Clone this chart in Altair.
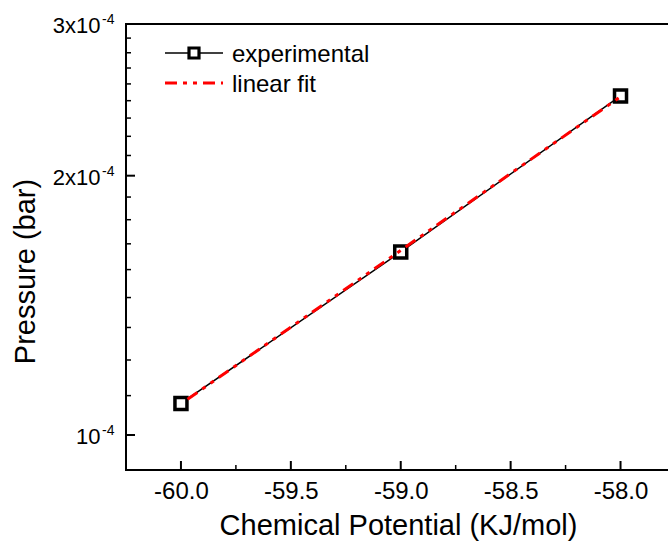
import altair as alt
import pandas as pd

FONT = "Liberation Sans"

# ---- data ----
mu = [-60.0, -59.0, -58.0]
pressure = [1.088e-4, 1.631e-4, 2.475e-4]
fit_mu = [-59.97, -58.0]
fit_p = [1.100e-4, 2.470e-4]

x_major = [-60.0, -59.5, -59.0, -58.5, -58.0]
x_minor = [-59.75, -59.25, -58.75, -58.25]
y_major = [1e-4, 2e-4, 3e-4]
y_minor = [1.111e-4, 1.222e-4, 1.333e-4, 1.444e-4, 1.556e-4, 1.667e-4, 1.778e-4, 1.889e-4,
           2.111e-4, 2.222e-4, 2.333e-4, 2.444e-4, 2.556e-4, 2.667e-4, 2.778e-4, 2.889e-4]
y_sup = ["-4", "-4", "-4"]
legend_labels = ["experimental", "linear fit"]

X_DOMAIN = [-60.25, -57.784]
Y_DOMAIN = [0.9107e-4, 3e-4]
W, H = 542, 446

xs = alt.Scale(domain=X_DOMAIN, nice=False, zero=False)
ys = alt.Scale(type="log", domain=Y_DOMAIN, nice=False)

df = pd.DataFrame({"mu": mu, "p": pressure})
df_fit = pd.DataFrame({"mu": fit_mu, "p": fit_p})
one = pd.DataFrame({"a": [0]})

xaxis = alt.Axis(
    values=x_major,
    labelExpr="datum.value < 0 ? '-' + format(-datum.value, '.1f') : format(datum.value, '.1f')",
    tickSize=0, domain=False, grid=False, labelOverlap=False,
    labelFont=FONT, labelFontSize=24, labelColor="black",
    labelBaseline="alphabetic", labelPadding=28,
    title="Chemical Potential (KJ/mol)", titleFont=FONT, titleFontSize=29,
    titleFontWeight="normal", titleColor="black",
    titleX=272, titleY=64, titleAlign="center", titleBaseline="alphabetic",
)
yaxis = alt.Axis(
    values=y_major,
    labelExpr="datum.value < 1.5e-4 ? '10' : format(round(datum.value * 1e4), 'd') + 'x10'",
    tickSize=0, domain=False, grid=False, labelOverlap=False,
    labelFont=FONT, labelFontSize=22, labelColor="black",
    labelPadding=26, labelOffset=1.5,
    title="Pressure (bar)", titleFont=FONT, titleFontSize=29,
    titleFontWeight="normal", titleColor="black", titleAngle=270,
    titleX=-92, titleY=247, titleAlign="center", titleBaseline="alphabetic",
)

X = lambda f: alt.X(f, scale=xs, axis=xaxis)
Y = lambda f: alt.Y(f, scale=ys, axis=yaxis)

line = alt.Chart(df).mark_line(color="black", strokeWidth=1.5).encode(x=X("mu:Q"), y=Y("p:Q"))
pts = alt.Chart(df).mark_point(shape="square", fill="white", stroke="black", strokeWidth=3.5,
                               size=144, opacity=1, fillOpacity=1).encode(x=X("mu:Q"), y=Y("p:Q"))
DASH = [12, 6, 4, 6, 4, 6]
fit = alt.Chart(df_fit).mark_line(color="red", strokeWidth=3, strokeDash=DASH).encode(
    x=X("mu:Q"), y=Y("p:Q"))

# frame
frame_left = alt.Chart(one).mark_rule(color="black", strokeWidth=2).encode(
    x=alt.value(0), y=alt.value(-1), y2=alt.value(H))
frame_bottom = alt.Chart(one).mark_rule(color="black", strokeWidth=2).encode(
    x=alt.value(-1), x2=alt.value(W), y=alt.value(H))
frame_top = alt.Chart(one).mark_rule(color="black", strokeWidth=2).encode(
    x=alt.value(-1), x2=alt.value(W), y=alt.value(0))

# inward ticks
yt_major = alt.Chart(pd.DataFrame({"p": y_major})).mark_rule(color="black", strokeWidth=2).encode(
    y=Y("p:Q"), x=alt.value(0), x2=alt.value(9))
yt_minor = alt.Chart(pd.DataFrame({"p": y_minor})).mark_rule(color="black", strokeWidth=1.5).encode(
    y=Y("p:Q"), x=alt.value(0), x2=alt.value(5))
xt_major = alt.Chart(pd.DataFrame({"mu": x_major})).mark_rule(color="black", strokeWidth=2).encode(
    x=X("mu:Q"), y=alt.value(H - 9), y2=alt.value(H))
xt_minor = alt.Chart(pd.DataFrame({"mu": x_minor})).mark_rule(color="black", strokeWidth=1.5).encode(
    x=X("mu:Q"), y=alt.value(H - 5), y2=alt.value(H))

# superscripts of y labels
sup = alt.Chart(pd.DataFrame({"p": y_major, "t": y_sup})).mark_text(
    align="left", baseline="middle", font=FONT, fontSize=14, color="black", dy=-4).encode(
    y=Y("p:Q"), x=alt.value(-24), text="t:N")

# legend
leg_black = alt.Chart(one).mark_rule(color="black", strokeWidth=1.5).encode(
    x=alt.value(39), x2=alt.value(97), y=alt.value(29))
leg_sq = alt.Chart(one).mark_point(shape="square", fill="white", stroke="black", strokeWidth=3.2,
                                   size=100, opacity=1, fillOpacity=1).encode(
    x=alt.value(68), y=alt.value(29))
leg_red = alt.Chart(one).mark_rule(color="red", strokeWidth=3, strokeDash=DASH).encode(
    x=alt.value(39), x2=alt.value(97), y=alt.value(59))
leg_t1 = alt.Chart(one).mark_text(align="left", baseline="alphabetic", font=FONT, fontSize=24,
                                  color="black").encode(
    x=alt.value(106), y=alt.value(37.7), text=alt.value(legend_labels[0]))
leg_t2 = alt.Chart(one).mark_text(align="left", baseline="alphabetic", font=FONT, fontSize=24,
                                  color="black").encode(
    x=alt.value(106), y=alt.value(67.7), text=alt.value(legend_labels[1]))

chart = alt.layer(
    line, pts, fit,
    frame_left, frame_bottom, frame_top,
    yt_major, yt_minor, xt_major, xt_minor,
    sup,
    leg_black, leg_sq, leg_red, leg_t1, leg_t2,
).properties(
    width=W, height=H,
    autosize=alt.AutoSizeParams(type="none"),
    padding={"left": 126, "top": 24, "right": 0, "bottom": 72},
    background="white",
).configure_view(stroke=None)

chart.save("out.html", embed_options={"renderer": "svg", "actions": False})
